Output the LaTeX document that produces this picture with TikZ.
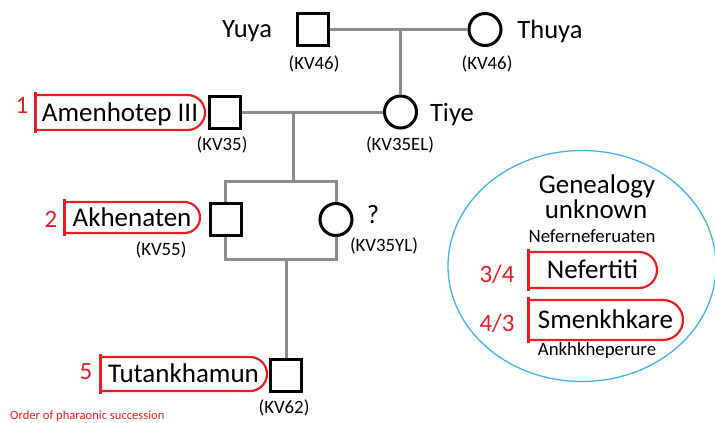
\documentclass[tikz,border=0pt]{standalone}
\usepackage{fontspec}
\setmainfont{Carlito}
\usetikzlibrary{shapes.geometric}
\definecolor{kingred}{RGB}{237,28,36}
\definecolor{kingray}{RGB}{140,140,140}
\definecolor{skyline}{RGB}{65,182,230}
\newcommand\fs[1]{\fontsize{#1}{#1}\selectfont}
% red outline of a reigning king: straight bar on the left, round right end
\newcommand\reignbox[2]{%
  \draw[reign] (#1.north west) [rounded corners=#2] -- (#1.north east) -- (#1.south east) -- (#1.south west);
  \draw[reignbar] ([yshift=3pt]#1.north west) -- ([yshift=-3pt]#1.south west);}
\tikzset{
  male/.style={draw=black, line width=3pt, fill=white, minimum width=31pt, minimum height=32pt, inner sep=0pt},
  female/.style={circle, draw=black, line width=3pt, fill=white, minimum size=32pt, inner sep=0pt},
  kin/.style={draw=kingray, line width=3pt},
  person/.style={anchor=base, inner sep=0pt, font=\fs{26.5}},
  tomb/.style={anchor=base, inner sep=0pt, font=\fs{18.8}},
  reignname/.style={inner sep=0pt, outer sep=0pt, font=\fs{27}, text height=22.4pt, text depth=5pt},
  reign/.style={draw=kingred, line width=2.2pt},
  reignbar/.style={draw=kingred, line width=3pt},
  reignno/.style={inner sep=0pt, text=kingred, font=\fs{25}},
}
\begin{document}
\begin{tikzpicture}[x=1pt, y=-1pt]
\useasboundingbox (0,0) rectangle (715,423);

% pedigree symbols
\node[male]   (yuya)  at (312.5,29.5) {};
\node[female] (thuya) at (485,29.5) {};
\node[female] (tiye)  at (400.5,112) {};
\node[male]   (amen)  at (224.5,112) {};
\node[male]   (akh)   at (225.5,219.5) {};
\node[female] (q)     at (336,219.5) {};
\node[male]   (tut)   at (286,375.5) {};

% kinship lines
\coordinate (m0) at (400.5,29.5);
\coordinate (m1) at (293,112);
\coordinate (ctop) at (293,181);
\coordinate (cbot) at (286,259);
\draw[kin] (yuya) -- (thuya);
\draw[kin] (m0) -- (tiye);
\draw[kin] (amen) -- (tiye);
\draw[kin] (m1) -- (ctop);
\draw[kin] (akh.north) -- (akh.north |- ctop) -- (q.north |- ctop) -- (q.north);
\draw[kin] (akh.south) -- (akh.south |- cbot) -- (q.south |- cbot) -- (q.south);
\draw[kin] (cbot) -- (tut);

% names and tombs
\node[person] (yuyaname)  at (247,37) {Yuya};
\node[person] (thuyaname) at (550,38) {Thuya};
\node[person] (tiyename)  at (452,121) {Tiye};
\node[person] (qname)     at (373,223) {?};
\node[tomb] (kv46a) at (314,69) {(KV46)};
\node[tomb] (kv46b) at (487,69) {(KV46)};
\node[tomb] (kv35el) at (400,150) {(KV35EL)};
\node[tomb] (kv35) at (222,150) {(KV35)};
\node[tomb] (kv55) at (161,255) {(KV55)};
\node[tomb] (kv35yl) at (384,251) {(KV35YL)};
\node[tomb] (kv62) at (284,413) {(KV62)};

% pharaohs
\node[reignname, minimum width=170pt, minimum height=35pt] (amenname) at (120,112.5) {Amenhotep III};
\reignbox{amenname}{17.5pt}
\node[reignname, minimum width=136pt, minimum height=31pt] (akhname) at (132,217.5) {Akhenaten};
\reignbox{akhname}{15.5pt}
\node[reignname, minimum width=167pt, minimum height=34pt] (tutname) at (183.5,374) {Tutankhamun};
\reignbox{tutname}{17pt}
\node[reignname, minimum width=129pt, minimum height=36pt] (nefname) at (592.5,270) {Nefertiti};
\reignbox{nefname}{18pt}
\node[reignname, minimum width=155pt, minimum height=40pt] (smenname) at (605.5,320) {Smenkhkare};
\reignbox{smenname}{20pt}

\node[reignno] (n1) at (22,105) {1};
\node[reignno] (n2) at (51,219) {2};
\node[reignno] (n5) at (86,372) {5};
\node[reignno] (n34) at (497,274) {3/4};
\node[reignno] (n43) at (497,323) {4/3};

% unknown genealogy
\node[draw=skyline, ellipse, line width=1.3pt, minimum width=268pt, minimum height=231pt, inner sep=0pt] (cloud) at (582,266) {};
\node[anchor=base, inner sep=0pt, font=\fs{27}] (gen1) at (597,193) {Genealogy};
\node[anchor=base, inner sep=0pt, font=\fs{27}] (gen2) at (596,218) {unknown};
\node[tomb] (nefer) at (592,242) {Neferneferuaten};
\node[tomb] (ankh) at (597,355) {Ankhkheperure};

\node[anchor=base west, inner sep=0pt, text=kingred, font=\fs{12.6}] (legend) at (10,419) {Order of pharaonic succession};
\end{tikzpicture}
\end{document}
